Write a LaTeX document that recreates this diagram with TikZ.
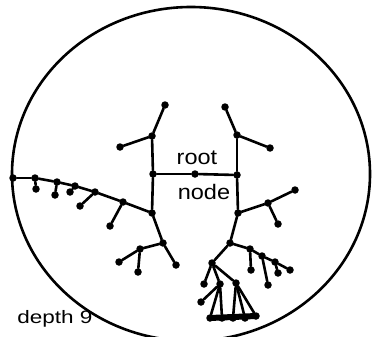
\documentclass[tikz,border=0pt]{standalone}
\usepackage{fontspec}
\setmainfont{Liberation Sans}
\begin{document}
\begin{tikzpicture}[x=1pt,y=-1pt,
  edge/.style={line width=2.6pt, line cap=round, line join=round},
  dot/.style={circle, fill=black, inner sep=0pt, minimum size=7.5pt},
  lbl/.style={font=\fontsize{21}{21}\selectfont, inner sep=0pt, xscale=1.12},
  dlbl/.style={font=\fontsize{18}{18}\selectfont, inner sep=0pt, xscale=1.25}]
\useasboundingbox (0,0) rectangle (372,337);
\begin{scope}
\clip (0,0) rectangle (372,337);
\draw[line width=2.6pt] (191,174) ellipse [x radius=179, y radius=167];
\end{scope}
\foreach \n/\p in {L0/{153,174},M/{195,174},R0/{237,175},
  Lt/{152,136},Ltt/{165,105},Ltl/{120,147},Lb/{152,213},
  La1/{123,202},La2/{95,192},La3/{75,186},La4/{57,182},La5/{35,178},La6/{13,178},
  Ls1/{110,226},Ls2/{80,206},Ls3/{70,192},Ls4/{55,195},Ls5/{36,189},
  Lc/{163,243},Lce/{176,265},Ld/{140,249},Lde/{119,262},Ldf/{138,272},
  Rt/{237,135},Rtt/{225,107},Rtr/{270,148},Rb/{238,213},Rc/{268,203},Rce/{295,190},Rcf/{278,224},
  A/{230,243},C/{250,249},Ca/{262,256},Cb/{275,262},Ce1/{290,270},Ce2/{278,273},Ce3/{268,285},Ce4/{251,270},
  B/{212,263},Be/{204,284},D/{220,284},De1/{201,302},De2/{210,318},De3/{222,318},
  E/{236,283},Ee1/{233,318},Ee2/{245,318},Ee3/{256,316}}
  \node[dot] (\n) at (\p) {};
\foreach \a/\b in {L0/M,M/R0,L0/Lt,Lt/Ltt,Lt/Ltl,L0/Lb,Lb/La1,La1/La2,La2/La3,La3/La4,La4/La5,La5/La6,
  La1/Ls1,La2/Ls2,La3/Ls3,La4/Ls4,La5/Ls5,Lb/Lc,Lc/Lce,Lc/Ld,Ld/Lde,Ld/Ldf,
  R0/Rt,Rt/Rtt,Rt/Rtr,R0/Rb,Rb/Rc,Rc/Rce,Rc/Rcf,Rb/A,A/C,C/Ca,Ca/Cb,Cb/Ce1,Cb/Ce2,Ca/Ce3,C/Ce4,
  A/B,B/Be,B/D,D/De1,D/De2,D/De3,B/E,E/Ee1,E/Ee2,E/Ee3}
  \draw[edge] (\a) -- (\b);
\draw[line width=6pt] (De2.center) -- (Ee3.center);
\node[lbl] (root) at (197,158) {root};
\node[lbl] (nodel) at (204,192) {node};
\node[dlbl, anchor=base west] (depth) at (17,323) {depth 9};
\end{tikzpicture}
\end{document}
